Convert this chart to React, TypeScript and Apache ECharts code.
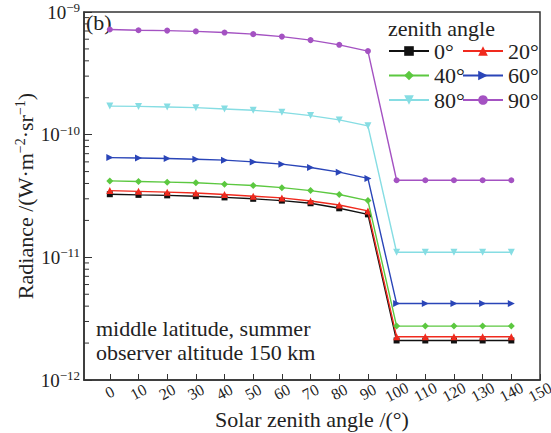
import React, { useEffect, useRef } from "react";
import * as echarts from "echarts";

const solarAngles = [0, 10, 20, 30, 40, 50, 60, 70, 80, 90, 100, 110, 120, 130, 140];
const xTicks = [0, 10, 20, 30, 40, 50, 60, 70, 80, 90, 100, 110, 120, 130, 140, 150];
const seriesNames = ["0°", "20°", "40°", "60°", "80°", "90°"];

const z0 = [3.27e-11, 3.23e-11, 3.2e-11, 3.15e-11, 3.08e-11, 3.0e-11, 2.9e-11, 2.76e-11, 2.51e-11, 2.24e-11, 2.1e-12, 2.1e-12, 2.1e-12, 2.1e-12, 2.1e-12];
const z20 = [3.5e-11, 3.45e-11, 3.4e-11, 3.35e-11, 3.25e-11, 3.15e-11, 3.05e-11, 2.88e-11, 2.67e-11, 2.39e-11, 2.25e-12, 2.25e-12, 2.25e-12, 2.25e-12, 2.25e-12];
const z40 = [4.2e-11, 4.15e-11, 4.1e-11, 4.05e-11, 3.95e-11, 3.85e-11, 3.7e-11, 3.5e-11, 3.25e-11, 2.9e-11, 2.75e-12, 2.75e-12, 2.75e-12, 2.75e-12, 2.75e-12];
const z60 = [6.5e-11, 6.45e-11, 6.4e-11, 6.3e-11, 6.2e-11, 6.0e-11, 5.75e-11, 5.4e-11, 4.95e-11, 4.4e-11, 4.2e-12, 4.2e-12, 4.2e-12, 4.2e-12, 4.2e-12];
const z80 = [1.71e-10, 1.7e-10, 1.68e-10, 1.66e-10, 1.62e-10, 1.58e-10, 1.52e-10, 1.43e-10, 1.32e-10, 1.18e-10, 1.1e-11, 1.1e-11, 1.1e-11, 1.1e-11, 1.1e-11];
const z90 = [7.2e-10, 7.1e-10, 7.05e-10, 6.95e-10, 6.8e-10, 6.6e-10, 6.3e-10, 5.9e-10, 5.4e-10, 4.8e-10, 4.25e-11, 4.25e-11, 4.25e-11, 4.25e-11, 4.25e-11];

const allValues = [z0, z20, z40, z60, z80, z90];
const colors = ["#111111", "#f02a1e", "#5cc840", "#2a45b8", "#86dde3", "#a452c2"];
const symbols = ["rect", "triangle", "diamond", "triangle", "triangle", "circle"];
const symbolRotates = [0, 0, 0, -90, 180, 0];
const symbolSizes = [6, 7, 7, 7, 7, 6];

const X_MIN = -9;
const X_MAX = 150;
const decades = [-12, -11, -10];
const minorMultipliers = [2, 3, 4, 5, 6, 7, 8, 9];

const FONT = "Liberation Serif";

export default function App() {
  const ref = useRef<HTMLDivElement>(null);
  useEffect(() => {
    document.body.style.margin = "0";
    if (!ref.current) return;
    const chart = echarts.init(ref.current, null, { renderer: "svg" });
    const minorTickData: number[][] = [];
    decades.forEach((d) =>
      minorMultipliers.forEach((m) => minorTickData.push([X_MIN, m * Math.pow(10, d)]))
    );
    const lineSeries = seriesNames.map((name, i) => ({
      name,
      type: "line",
      data: solarAngles.map((a, j) => [a, allValues[i][j]]),
      symbol: symbols[i],
      symbolRotate: symbolRotates[i],
      symbolSize: symbolSizes[i],
      showSymbol: true,
      lineStyle: { color: colors[i], width: 1.4 },
      itemStyle: { color: colors[i] },
      z: 3 + i,
    }));
    const legendCommon = {
      orient: "vertical",
      padding: 0,
      itemWidth: 40,
      itemHeight: 12,
      itemGap: 2.5,
      textStyle: { fontFamily: FONT, fontSize: 22, color: "#222", lineHeight: 20 },
      selectedMode: false,
    };
    chart.setOption({
      animation: false,
      backgroundColor: "#fff",
      textStyle: { fontFamily: FONT },
      grid: {
        left: 84,
        right: 11,
        top: 12,
        bottom: 53,
        show: true,
        borderColor: "#333",
        borderWidth: 1.5,
        containLabel: false,
        outerBoundsMode: "none",
      },
      legend: [
        { ...legendCommon, data: ["0°", "40°", "80°"], left: 388, top: 40 },
        { ...legendCommon, data: ["20°", "60°", "90°"], left: 462, top: 40 },
      ],
      xAxis: {
        type: "value",
        min: X_MIN,
        max: X_MAX,
        name: "Solar zenith angle /(°)",
        nameLocation: "middle",
        nameGap: 28,
        nameMoveOverlap: false,
        nameTextStyle: { fontFamily: FONT, fontSize: 22, color: "#222" },
        axisLine: { onZero: false, lineStyle: { color: "#333", width: 1.5 } },
        axisTick: { inside: true, length: 6, customValues: xTicks, lineStyle: { color: "#333" } },
        axisLabel: {
          customValues: xTicks,
          showMinLabel: true,
          showMaxLabel: true,
          hideOverlap: false,
          rotate: 28,
          align: "center",
          verticalAlign: "middle",
          margin: 12,
          formatter: "{a|{value}}",
          rich: {
            a: {
              fontFamily: FONT,
              fontSize: 16,
              color: "#222",
              width: 14,
              height: 10,
              align: "center",
            },
          },
        },
        splitLine: { show: false },
      },
      yAxis: {
        type: "log",
        logBase: 10,
        min: 1e-12,
        max: 1e-9,
        name: "{n|Radiance /(W·m}{s|−2}{n|·sr}{s|−1}{n|)}",
        nameLocation: "middle",
        nameGap: 47,
        nameMoveOverlap: false,
        nameTextStyle: {
          rich: {
            n: { fontFamily: FONT, fontSize: 22, color: "#222", lineHeight: 24 },
            s: { fontFamily: FONT, fontSize: 14, color: "#222", lineHeight: 14, verticalAlign: "top" },
          },
        },
        axisLine: { onZero: false, lineStyle: { color: "#333", width: 1.5 } },
        axisTick: { inside: true, length: 8, lineStyle: { color: "#333" } },
        axisLabel: {
          margin: 4,
          formatter: (v: number) => `{b|10}{s|−${Math.abs(Math.round(Math.log10(v)))}}`,
          rich: {
            b: { fontFamily: FONT, fontSize: 19, color: "#222", lineHeight: 22 },
            s: { fontFamily: FONT, fontSize: 13, color: "#222", lineHeight: 13, verticalAlign: "top" },
          },
        },
        splitLine: { show: false },
        minorTick: { show: false },
      },
      graphic: [
        {
          type: "text",
          left: 388,
          top: 17,
          style: { text: "zenith angle", fontFamily: FONT, fontSize: 22, fill: "#222" },
        },
        {
          type: "text",
          left: 86,
          top: 11,
          style: { text: "(b)", fontFamily: FONT, fontSize: 22, fill: "#222" },
        },
        {
          type: "text",
          left: 96,
          top: 316,
          style: {
            text: "middle latitude, summer\nobserver altitude 150 km",
            fontFamily: FONT,
            fontSize: 22,
            lineHeight: 24,
            fill: "#222",
          },
        },
      ],
      series: [
        ...lineSeries,
        {
          type: "custom",
          name: "minorTicks",
          data: minorTickData,
          encode: { x: 0, y: 1 },
          clip: false,
          silent: true,
          renderItem: (params: any, api: any) => {
            const p = api.coord([api.value(0), api.value(1)]);
            return {
              type: "line",
              shape: { x1: p[0], y1: p[1], x2: p[0] + 5, y2: p[1] },
              style: { stroke: "#333", lineWidth: 1 },
            };
          },
        },
      ],
    });
    return () => chart.dispose();
  }, []);
  return <div ref={ref} style={{ width: 551, height: 433 }} />;
}
